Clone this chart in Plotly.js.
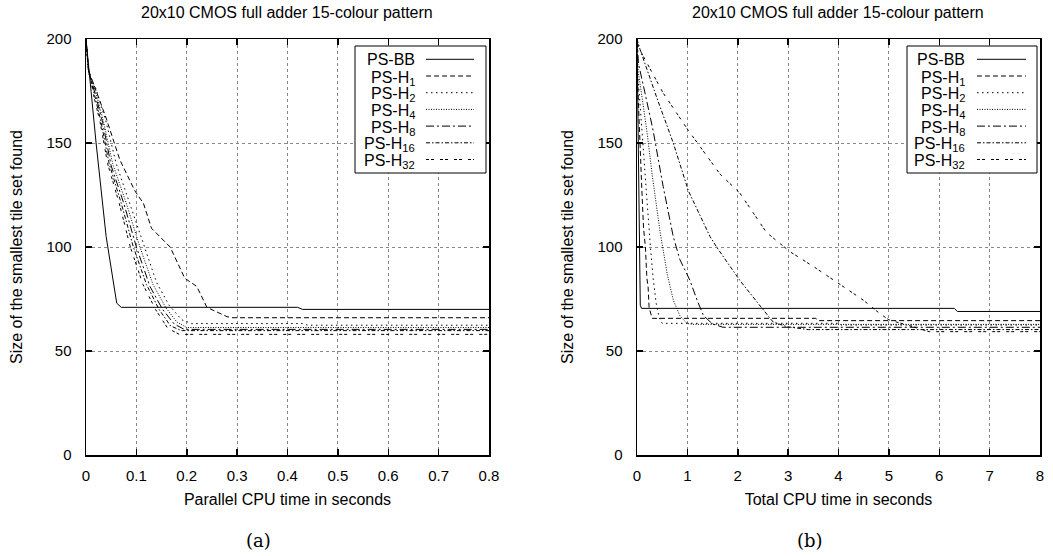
<!DOCTYPE html>
<html><head><meta charset="utf-8">
<script src="https://cdn.plot.ly/plotly-3.0.1.min.js"></script>
<style>html,body{margin:0;padding:0;background:#fff}#chart{width:1053px;height:556px}</style>
</head><body><div id="chart"></div>
<script>
// ---- series names ----
const seriesNames = ['PS-BB','PS-H<sub>1</sub>','PS-H<sub>2</sub>','PS-H<sub>4</sub>','PS-H<sub>8</sub>','PS-H<sub>16</sub>','PS-H<sub>32</sub>'];

// ---- panel (a): parallel CPU time (s) vs size of smallest tile set ----
const parBB_t  = [0, 0.02, 0.04, 0.055, 0.061, 0.07, 0.42, 0.43, 0.8];
const parBB_v  = [200, 150, 105, 82, 73, 71, 71, 70, 70];
const parH1_t  = [0, 0.005, 0.04, 0.067, 0.097, 0.114, 0.13, 0.167, 0.196, 0.22, 0.24, 0.28, 0.29, 0.8];
const parH1_v  = [200, 185, 162, 142, 127, 121, 109, 100, 85, 81, 71, 66.5, 66, 66];
const parH2_t  = [0, 0.006, 0.02, 0.04, 0.06, 0.088, 0.115, 0.14, 0.165, 0.19, 0.21, 0.43, 0.44, 0.8];
const parH2_v  = [200, 183, 176, 160, 140, 120, 100, 83, 72, 65, 63.2, 63.2, 62.4, 62.4];
const parH4_t  = [0, 0.005, 0.02, 0.035, 0.053, 0.08, 0.107, 0.133, 0.158, 0.18, 0.2, 0.8];
const parH4_v  = [200, 184, 174, 160, 140, 121, 100, 82, 71, 64, 61.3, 61.3];
const parH8_t  = [0, 0.005, 0.02, 0.033, 0.05, 0.075, 0.1, 0.127, 0.152, 0.175, 0.195, 0.8];
const parH8_v  = [200, 185, 172, 160, 139, 121, 100, 81, 70, 63, 60.4, 60.4];
const parH16_t = [0, 0.004, 0.018, 0.03, 0.046, 0.07, 0.094, 0.12, 0.145, 0.168, 0.19, 0.8];
const parH16_v = [200, 186, 172, 160, 140, 121, 100, 82, 70, 62, 59.8, 59.8];
const parH32_t = [0, 0.004, 0.016, 0.028, 0.043, 0.066, 0.088, 0.113, 0.138, 0.162, 0.185, 0.8];
const parH32_v = [200, 187, 172, 160, 140, 121, 100, 82, 70, 61, 58, 58];

// ---- panel (b): total CPU time (s) vs size of smallest tile set ----
const totBB_t  = [0, 0.02, 0.04, 0.055, 0.065, 0.09, 6.3, 6.36, 8];
const totBB_v  = [200, 150, 105, 80, 72, 70.5, 70.5, 69, 69];
const totH1_t  = [0, 0.005, 0.04, 0.067, 0.097, 0.13, 0.167, 0.196, 0.22, 0.24, 0.28, 0.3, 3.55, 3.6, 8];
const totH1_v  = [200, 185, 162, 142, 127, 109, 100, 85, 81, 71, 66.5, 65.7, 65.7, 64.6, 64.6];
const totH2_t  = [0, 0.015, 0.05, 0.1, 0.15, 0.2, 0.26, 0.32, 0.38, 0.44, 0.5, 4.0, 4.05, 8];
const totH2_v  = [200, 183, 172, 155, 137, 122, 102, 85, 73, 66, 63.3, 63.3, 62.5, 62.5];
const totH4_t  = [0, 0.02, 0.1, 0.2, 0.3, 0.4, 0.46, 0.6, 0.72, 0.85, 0.99, 1.1, 8];
const totH4_v  = [200, 185, 172, 155, 135, 117, 107, 87, 74.5, 67, 63.3, 62.8, 62.8];
const totH8_t  = [0, 0.03, 0.15, 0.32, 0.52, 0.72, 0.85, 1.05, 1.2, 1.32, 1.5, 1.71, 8];
const totH8_v  = [200, 188, 175, 156, 129, 105, 94, 84, 74, 67, 63, 61.4, 61.4];
const totH16_t = [0, 0.06, 0.39, 0.72, 1.02, 1.45, 1.58, 2.04, 2.5, 2.7, 2.97, 3.4, 8];
const totH16_v = [200, 195, 172, 150, 127, 105, 100, 84, 70, 64, 61.7, 60.3, 60.3];
const totH32_t = [0, 0.03, 0.52, 1.02, 1.65, 2.04, 2.57, 3.04, 3.56, 4.09, 4.49, 4.82, 5.0, 5.47, 5.8, 8];
const totH32_v = [200, 196, 174, 156, 135, 126, 107, 97.7, 89.7, 81, 74.5, 68, 65, 61.7, 59.3, 59.3];

// ---- axis tick values ----
const yTicks  = [0, 50, 100, 150, 200];
const xTicksA = [0, 0.1, 0.2, 0.3, 0.4, 0.5, 0.6, 0.7, 0.8];
const xTicksB = [0, 1, 2, 3, 4, 5, 6, 7, 8];

// ---- styles ----
const dashes = ['solid', '5px,3px', '1.5px,3.5px', '1px,1.5px', '8px,3px,2px,3px', '4px,2px,1.5px,2px', '3px,2px,3px,6px'];
const W = 1053, H = 556;
const px = v => v / W;
const py = v => 1 - v / H;
const FONT = '"Liberation Sans", Arial, Helvetica, sans-serif';

const parSeries = [[parBB_t, parBB_v], [parH1_t, parH1_v], [parH2_t, parH2_v], [parH4_t, parH4_v], [parH8_t, parH8_v], [parH16_t, parH16_v], [parH32_t, parH32_v]];
const totSeries = [[totBB_t, totBB_v], [totH1_t, totH1_v], [totH2_t, totH2_v], [totH4_t, totH4_v], [totH8_t, totH8_v], [totH16_t, totH16_v], [totH32_t, totH32_v]];

const traces = [];
parSeries.forEach((s, i) => traces.push({
  x: s[0], y: s[1], xaxis: 'x', yaxis: 'y', mode: 'lines', name: seriesNames[i],
  line: {color: '#000', width: 1, dash: dashes[i]}, showlegend: false, hoverinfo: 'skip'
}));
totSeries.forEach((s, i) => traces.push({
  x: s[0], y: s[1], xaxis: 'x2', yaxis: 'y2', mode: 'lines', name: seriesNames[i],
  line: {color: '#000', width: 1, dash: dashes[i]}, showlegend: false, hoverinfo: 'skip'
}));

const axCommon = {
  showline: true, linecolor: '#000', linewidth: 1.5, mirror: 'ticks',
  ticks: 'inside', ticklen: 6, tickwidth: 1.5, tickcolor: '#000',
  showgrid: true, gridcolor: '#888', gridwidth: 1, griddash: 'dot',
  zeroline: false, automargin: false, fixedrange: true,
  tickfont: {family: FONT, size: 15, color: '#000'}
};
const yDom = [py(455), py(39)];

const layout = {
  width: W, height: H, margin: {l: 0, r: 0, t: 0, b: 0},
  paper_bgcolor: '#fff', plot_bgcolor: '#fff', showlegend: false,
  font: {family: FONT, size: 16, color: '#000'},
  xaxis: Object.assign({}, axCommon, {domain: [px(86), px(489)], range: [0, 0.8], tickvals: xTicksA, ticktext: xTicksA.map(String), anchor: 'y', ticklabelstandoff: 6,
    title: {text: 'Parallel CPU time in seconds', font: {family: FONT, size: 16}, standoff: 11}}),
  yaxis: Object.assign({}, axCommon, {domain: yDom, range: [0, 200], tickvals: yTicks, anchor: 'x', ticklabelstandoff: 10,
    title: {text: 'Size of the smallest tile set found', font: {family: FONT, size: 16}, standoff: 20}}),
  xaxis2: Object.assign({}, axCommon, {domain: [px(637), px(1040)], range: [0, 8], tickvals: xTicksB, anchor: 'y2', ticklabelstandoff: 6,
    title: {text: 'Total CPU time in seconds', font: {family: FONT, size: 16}, standoff: 11}}),
  yaxis2: Object.assign({}, axCommon, {domain: yDom, range: [0, 200], tickvals: yTicks, anchor: 'x2', ticklabelstandoff: 10,
    title: {text: 'Size of the smallest tile set found', font: {family: FONT, size: 16}, standoff: 20}}),
  shapes: [], annotations: []
};

// subplot titles and captions
[[287, '20x10 CMOS full adder 15-colour pattern'], [838, '20x10 CMOS full adder 15-colour pattern']].forEach(a => layout.annotations.push({
  xref: 'paper', yref: 'paper', x: px(a[0]), y: py(13), text: a[1], showarrow: false, xanchor: 'center', yanchor: 'middle',
  font: {family: FONT, size: 16, color: '#000'}
}));
[[258, '(a)'], [810, '(b)']].forEach(a => layout.annotations.push({
  xref: 'paper', yref: 'paper', x: px(a[0]), y: py(540), text: a[1], showarrow: false, xanchor: 'center', yanchor: 'middle',
  font: {family: '"DejaVu Serif", "Liberation Serif", serif', size: 18, color: '#000'}
}));

// legends (text on the left, line sample on the right, as in the original)
function addLegend(boxL, boxR, textR, sampL, sampR) {
  layout.shapes.push({type: 'rect', xref: 'paper', yref: 'paper', x0: px(boxL), x1: px(boxR), y0: py(173), y1: py(46),
    line: {color: '#000', width: 1}, fillcolor: '#fff', layer: 'above'});
  seriesNames.forEach((nm, i) => {
    const yc = 59.3 + i * 16.7;
    layout.shapes.push({type: 'line', xref: 'paper', yref: 'paper', x0: px(sampL), x1: px(sampR), y0: py(yc), y1: py(yc),
      line: {color: '#000', width: 1, dash: dashes[i]}, layer: 'above'});
    layout.annotations.push({xref: 'paper', yref: 'paper', x: px(textR), y: py(yc + (i === 0 ? 0 : 2)), text: nm, showarrow: false,
      xanchor: 'right', yanchor: 'middle', font: {family: FONT, size: 16, color: '#000'}});
  });
}
addLegend(355, 486, 417, 426, 474);
addLegend(907, 1037, 967, 977, 1026);

Plotly.newPlot('chart', traces, layout, {staticPlot: true, displayModeBar: false});
</script>
</body></html>
